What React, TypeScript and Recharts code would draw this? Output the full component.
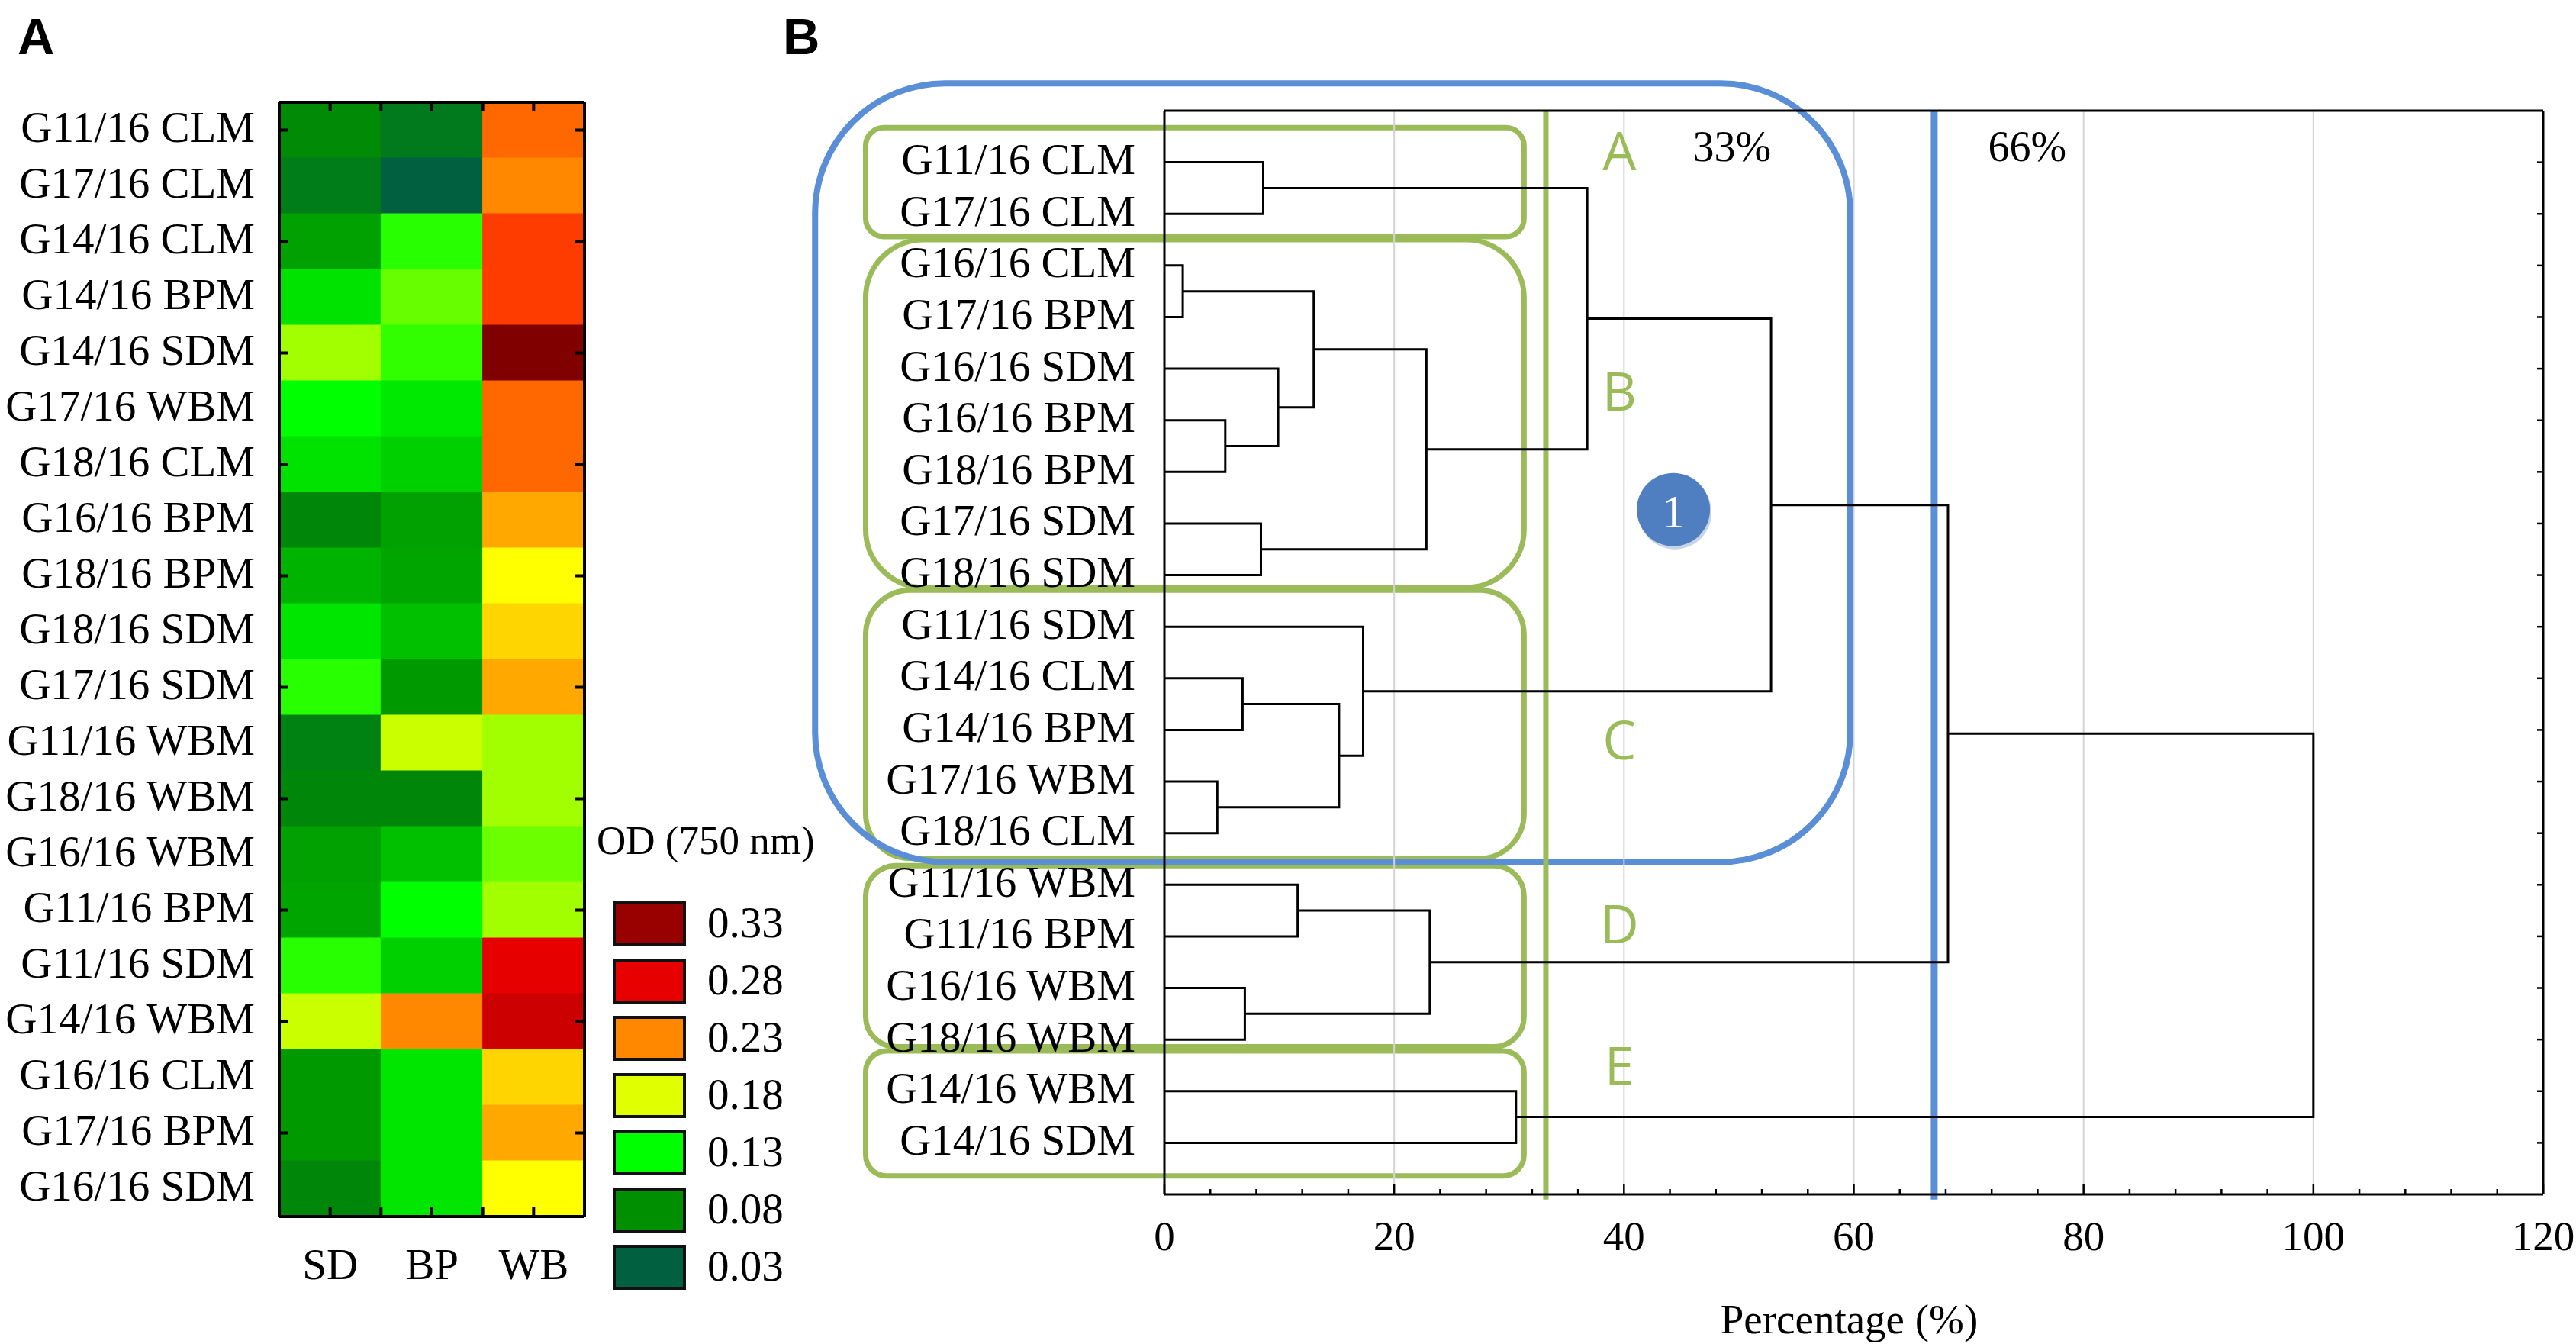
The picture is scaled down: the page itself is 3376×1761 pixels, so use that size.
import {
  BarChart,
  Bar,
  Cell,
  XAxis,
  YAxis,
  ComposedChart,
  Scatter,
  ReferenceLine,
  ReferenceArea,
  ReferenceDot,
  Label,
} from "recharts";

const SERIF = '"Liberation Serif", "Times New Roman", serif';
const SANS = '"Liberation Sans", Arial, sans-serif';
const LETTER_FONT = '"Open Sans", "Liberation Sans", sans-serif';
const GREEN = "#9bbb59";
const BLUE = "#5a8ed6";

// ---------- panel A: heatmap ----------
const rowLabels = [
  "G11/16 CLM", "G17/16 CLM", "G14/16 CLM", "G14/16 BPM", "G14/16 SDM",
  "G17/16 WBM", "G18/16 CLM", "G16/16 BPM", "G18/16 BPM", "G18/16 SDM",
  "G17/16 SDM", "G11/16 WBM", "G18/16 WBM", "G16/16 WBM", "G11/16 BPM",
  "G11/16 SDM", "G14/16 WBM", "G16/16 CLM", "G17/16 BPM", "G16/16 SDM",
];
const columnLabels = ["SD", "BP", "WB"];
const sdValues = [
  0.075, 0.061, 0.088, 0.117, 0.166, 0.13, 0.117, 0.072, 0.096, 0.119,
  0.139, 0.066, 0.072, 0.088, 0.09, 0.139, 0.175, 0.085, 0.085, 0.072,
];
const bpValues = [
  0.058, 0.03, 0.139, 0.153, 0.141, 0.12, 0.109, 0.088, 0.09, 0.102,
  0.085, 0.175, 0.072, 0.102, 0.13, 0.109, 0.23, 0.119, 0.119, 0.119,
];
const wbValues = [
  0.245, 0.23, 0.265, 0.265, 0.35, 0.245, 0.245, 0.219, 0.19, 0.204,
  0.219, 0.166, 0.166, 0.154, 0.166, 0.28, 0.297, 0.204, 0.219, 0.19,
];
const legendValues = [0.33, 0.28, 0.23, 0.18, 0.13, 0.08, 0.03];
const heatTicks = [0.5, 1, 1.5, 2, 2.5];

// OD colour ramp
const odStops: [number, string][] = [
  [0.03, "#006040"],
  [0.08, "#008f00"],
  [0.13, "#00ff00"],
  [0.18, "#e0ff00"],
  [0.19, "#ffff00"],
  [0.23, "#ff8800"],
  [0.265, "#ff3c00"],
  [0.28, "#e60000"],
  [0.33, "#990000"],
  [0.35, "#800000"],
];

function hexToRgb(h: string) {
  return [1, 3, 5].map((i) => parseInt(h.slice(i, i + 2), 16));
}

function odColor(v: number) {
  if (v <= odStops[0][0]) return odStops[0][1];
  for (let i = 1; i < odStops.length; i++) {
    const [v1, c1] = odStops[i];
    if (v <= v1) {
      const [v0, c0] = odStops[i - 1];
      const t = (v - v0) / (v1 - v0);
      const a = hexToRgb(c0);
      const b = hexToRgb(c1);
      const mix = a.map((x, k) => Math.round(x + (b[k] - x) * t));
      return `rgb(${mix.join(",")})`;
    }
  }
  return odStops[odStops.length - 1][1];
}

const heatRows = rowLabels.map((label, i) => ({
  label,
  sd: 1,
  bp: 1,
  wb: 1,
  sdOd: sdValues[i],
  bpOd: bpValues[i],
  wbOd: wbValues[i],
}));

// ---------- panel B: dendrogram ----------
const leaves = [
  "G11/16 CLM", "G17/16 CLM", "G16/16 CLM", "G17/16 BPM", "G16/16 SDM",
  "G16/16 BPM", "G18/16 BPM", "G17/16 SDM", "G18/16 SDM", "G11/16 SDM",
  "G14/16 CLM", "G14/16 BPM", "G17/16 WBM", "G18/16 CLM", "G11/16 WBM",
  "G11/16 BPM", "G16/16 WBM", "G18/16 WBM", "G14/16 WBM", "G14/16 SDM",
];
// [node, child, child, linkage height in %]
const merges: [string, string, string, number][] = [
  ["a", "G11/16 CLM", "G17/16 CLM", 8.6],
  ["b1", "G16/16 CLM", "G17/16 BPM", 1.6],
  ["b2", "G16/16 BPM", "G18/16 BPM", 5.3],
  ["b3", "G16/16 SDM", "b2", 9.9],
  ["b4", "b1", "b3", 13.0],
  ["b5", "G17/16 SDM", "G18/16 SDM", 8.4],
  ["b", "b4", "b5", 22.8],
  ["ab", "a", "b", 36.8],
  ["c1", "G14/16 CLM", "G14/16 BPM", 6.8],
  ["c2", "G17/16 WBM", "G18/16 CLM", 4.6],
  ["c3", "c1", "c2", 15.2],
  ["c", "G11/16 SDM", "c3", 17.3],
  ["abc", "ab", "c", 52.8],
  ["d1", "G11/16 WBM", "G11/16 BPM", 11.6],
  ["d2", "G16/16 WBM", "G18/16 WBM", 7.0],
  ["d", "d1", "d2", 23.1],
  ["abcd", "abc", "d", 68.2],
  ["e", "G14/16 WBM", "G14/16 SDM", 30.6],
  ["root", "abcd", "e", 100],
];
const axisTicks = [
  0, 4, 8, 12, 16, 20, 24, 28, 32, 36, 40, 44, 48, 52, 56, 60, 64, 68, 72,
  76, 80, 84, 88, 92, 96, 100, 104, 108, 112, 116, 120,
];
const gridValues = [20, 40, 60, 80, 100];
const leafTicks = leaves.map((_, i) => i + 1);

// cluster annotations (x in %, y in leaf rows)
const clusterBoxes = [
  { name: "A", y1: 0.33, y2: 2.44, ly: 0.76 },
  { name: "B", y1: 2.5, y2: 9.24, ly: 5.42 },
  { name: "C", y1: 9.29, y2: 14.49, ly: 12.17 },
  { name: "D", y1: 14.63, y2: 18.14, ly: 15.74 },
  { name: "E", y1: 18.22, y2: 20.64, ly: 18.48 },
];
const clusterBoxX = [-26, 31.3];
const groupBox = { x1: -30.4, x2: 59.7, y1: -0.53, y2: 14.56 };
const cutGreen = 33.2;
const cutBlue = 67;

type Pt = { x: number; y: number };
const nodePos = new Map<string, Pt>();
leaves.forEach((name, i) => nodePos.set(name, { x: 0, y: i + 1 }));
const links: Pt[][] = merges.map(([id, a, b, h]) => {
  const pa = nodePos.get(a)!;
  const pb = nodePos.get(b)!;
  nodePos.set(id, { x: h, y: (pa.y + pb.y) / 2 });
  return [pa, { x: h, y: pa.y }, { x: h, y: pb.y }, pb];
});

// ---------- ticks ----------
const HeatRowTick = (p: any) => (
  <g>
    {p.index % 2 === 0 && (
      <line x1={p.x} x2={p.x + 12} y1={p.y} y2={p.y} stroke="#000" strokeWidth={4} />
    )}
    <text
      x={p.x - 32}
      y={p.y - 4}
      textAnchor="end"
      dominantBaseline="central"
      fontFamily={SERIF}
      fontSize={57}
      fill="#000"
    >
      {p.payload.value}
    </text>
  </g>
);

const HeatRightTick = (p: any) =>
  p.index % 2 === 0 ? (
    <line x1={p.x} x2={p.x - 12} y1={p.y} y2={p.y} stroke="#000" strokeWidth={4} />
  ) : (
    <g />
  );

const HeatTopTick = (p: any) => (
  <line x1={p.x} x2={p.x} y1={p.y} y2={p.y + 12} stroke="#000" strokeWidth={4} />
);

const HeatBottomTick = (p: any) => {
  const v = p.payload.value;
  const isCenter = v % 1 === 0.5;
  return (
    <g>
      <line x1={p.x} x2={p.x} y1={p.y} y2={p.y - 12} stroke="#000" strokeWidth={4} />
      {isCenter && (
        <text
          x={p.x}
          y={p.y + 62}
          textAnchor="middle"
          dominantBaseline="central"
          fontFamily={SERIF}
          fontSize={57}
          fill="#000"
        >
          {columnLabels[Math.floor(v)]}
        </text>
      )}
    </g>
  );
};

const DendroBottomTick = (p: any) => {
  const v = p.payload.value;
  const major = v % 20 === 0;
  return (
    <g>
      <line x1={p.x} x2={p.x} y1={p.y} y2={p.y - (major ? 14 : 7)} stroke="#000" strokeWidth={2.5} />
      {major && (
        <text
          x={p.x}
          y={p.y + 54}
          textAnchor="middle"
          dominantBaseline="central"
          fontFamily={SERIF}
          fontSize={55}
          fill="#000"
        >
          {v}
        </text>
      )}
    </g>
  );
};

const DendroTopTick = (p: any) => {
  const major = p.payload.value % 20 === 0;
  return (
    <line x1={p.x} x2={p.x} y1={p.y} y2={p.y + (major ? 14 : 7)} stroke="#000" strokeWidth={2.5} />
  );
};

const LeafTick = (p: any) => (
  <text
    x={p.x - 38}
    y={p.y - 4}
    textAnchor="end"
    dominantBaseline="central"
    fontFamily={SERIF}
    fontSize={57}
    fill="#000"
  >
    {leaves[p.payload.value - 1]}
  </text>
);

const DendroRightTick = (p: any) => (
  <line x1={p.x} x2={p.x - 8} y1={p.y} y2={p.y} stroke="#000" strokeWidth={2.5} />
);

const roundedBox = (color: string, width: number) => (p: any) => {
  const r = Math.min(Math.abs(p.width), Math.abs(p.height)) * 0.167;
  return (
    <rect
      x={p.x}
      y={p.y}
      width={p.width}
      height={p.height}
      rx={r}
      ry={r}
      fill="none"
      stroke={color}
      strokeWidth={width}
    />
  );
};

const letterShape = (letter: string) => (p: any) => (
  <text
    x={p.cx}
    y={p.cy}
    textAnchor="middle"
    dominantBaseline="central"
    fontFamily={LETTER_FONT}
    fontSize={70}
    fill={GREEN}
  >
    {letter}
  </text>
);

const percentShape = (txt: string) => (p: any) => (
  <text
    x={p.cx}
    y={p.cy}
    textAnchor="middle"
    dominantBaseline="central"
    fontFamily={SERIF}
    fontSize={56}
    fill="#000"
  >
    {txt}
  </text>
);

const badgeShape = (p: any) => (
  <g>
    <circle cx={p.cx + 2} cy={p.cy + 4} r={48} fill="#c9d4e6" />
    <circle cx={p.cx} cy={p.cy} r={48} fill="#4f7fc0" />
    <text
      x={p.cx}
      y={p.cy + 2}
      textAnchor="middle"
      dominantBaseline="central"
      fontFamily={SERIF}
      fontSize={62}
      fill="#fff"
    >
      1
    </text>
  </g>
);

function Heatmap() {
  return (
    <BarChart
      width={800}
      height={1761}
      data={heatRows}
      layout="vertical"
      barCategoryGap={0}
      margin={{ top: 133, right: 33, bottom: 166, left: 365 }}
    >
      <XAxis
        xAxisId="top"
        orientation="top"
        type="number"
        domain={[0, 3]}
        allowDataOverflow
        ticks={heatTicks}
        interval={0}
        height={1}
        tickSize={0}
        tickMargin={0}
        tickLine={false}
        tick={HeatTopTick}
        axisLine={{ stroke: "#000", strokeWidth: 4 }}
      />
      <XAxis
        xAxisId="bottom"
        orientation="bottom"
        type="number"
        domain={[0, 3]}
        allowDataOverflow
        ticks={heatTicks}
        interval={0}
        height={1}
        tickSize={0}
        tickMargin={0}
        tickLine={false}
        tick={HeatBottomTick}
        axisLine={{ stroke: "#000", strokeWidth: 4 }}
      />
      <YAxis
        yAxisId="left"
        type="category"
        dataKey="label"
        width={1}
        interval={0}
        tickSize={0}
        tickMargin={0}
        tickLine={false}
        tick={HeatRowTick}
        axisLine={{ stroke: "#000", strokeWidth: 4 }}
      />
      <YAxis
        yAxisId="right"
        orientation="right"
        type="category"
        dataKey="label"
        width={1}
        interval={0}
        tickSize={0}
        tickMargin={0}
        tickLine={false}
        tick={HeatRightTick}
        axisLine={{ stroke: "#000", strokeWidth: 4 }}
      />
      {(["sd", "bp", "wb"] as const).map((key) => (
        <Bar
          key={key}
          dataKey={key}
          stackId="hm"
          xAxisId="bottom"
          yAxisId="left"
          isAnimationActive={false}
        >
          {heatRows.map((r, i) => {
            const c = odColor(r[`${key}Od` as "sdOd"]);
            return <Cell key={i} fill={c} stroke={c} strokeWidth={1} />;
          })}
        </Bar>
      ))}
    </BarChart>
  );
}

function Dendrogram() {
  return (
    <ComposedChart
      width={2376}
      height={1761}
      margin={{ top: 144, right: 42, bottom: 195, left: 525 }}
    >
      <XAxis
        xAxisId="b"
        type="number"
        dataKey="x"
        domain={[0, 120]}
        ticks={axisTicks}
        interval={0}
        height={1}
        tickSize={0}
        tickMargin={0}
        tickLine={false}
        tick={DendroBottomTick}
        axisLine={{ stroke: "#000", strokeWidth: 3 }}
      >
        <Label
          content={(props: any) => {
            const vb = props.viewBox;
            return (
              <text
                x={vb.x + vb.width / 2 - 6}
                y={vb.y + 163}
                textAnchor="middle"
                dominantBaseline="central"
                fontFamily={SERIF}
                fontSize={55}
                fill="#000"
              >
                Percentage (%)
              </text>
            );
          }}
        />
      </XAxis>
      <XAxis
        xAxisId="t"
        orientation="top"
        type="number"
        domain={[0, 120]}
        allowDataOverflow
        ticks={axisTicks}
        interval={0}
        height={1}
        tickSize={0}
        tickMargin={0}
        tickLine={false}
        tick={DendroTopTick}
        axisLine={{ stroke: "#000", strokeWidth: 3 }}
      />
      <YAxis
        yAxisId="l"
        type="number"
        dataKey="y"
        domain={[0, 21]}
        reversed
        ticks={leafTicks}
        interval={0}
        width={1}
        tickSize={0}
        tickMargin={0}
        tickLine={false}
        tick={LeafTick}
        axisLine={{ stroke: "#000", strokeWidth: 3 }}
      />
      <YAxis
        yAxisId="r"
        orientation="right"
        type="number"
        domain={[0, 21]}
        allowDataOverflow
        reversed
        ticks={leafTicks}
        interval={0}
        width={1}
        tickSize={0}
        tickMargin={0}
        tickLine={false}
        tick={DendroRightTick}
        axisLine={{ stroke: "#000", strokeWidth: 3 }}
      />
      {gridValues.map((v) => (
        <ReferenceLine
          key={v}
          xAxisId="b"
          yAxisId="l"
          x={v}
          stroke="#d4d4d4"
          strokeWidth={2}
        />
      ))}
      {links.map((pts, i) => (
        <Scatter
          key={i}
          xAxisId="b"
          yAxisId="l"
          data={pts}
          line={{ stroke: "#000", strokeWidth: 3 }}
          shape={() => <g />}
          legendType="none"
          isAnimationActive={false}
        />
      ))}
      <ReferenceLine
        xAxisId="b"
        yAxisId="l"
        segment={[
          { x: cutGreen, y: 0 },
          { x: cutGreen, y: 21.1 },
        ]}
        stroke={GREEN}
        strokeWidth={7}
        ifOverflow="visible"
      />
      {clusterBoxes.map((b) => (
        <ReferenceArea
          key={b.name}
          xAxisId="b"
          yAxisId="l"
          x1={clusterBoxX[0]}
          x2={clusterBoxX[1]}
          y1={b.y1}
          y2={b.y2}
          ifOverflow="visible"
          shape={roundedBox(GREEN, 7)}
        />
      ))}
      <ReferenceArea
        xAxisId="b"
        yAxisId="l"
        x1={groupBox.x1}
        x2={groupBox.x2}
        y1={groupBox.y1}
        y2={groupBox.y2}
        ifOverflow="visible"
        shape={roundedBox(BLUE, 8)}
      />
      <ReferenceLine
        xAxisId="b"
        yAxisId="l"
        segment={[
          { x: cutBlue, y: 0 },
          { x: cutBlue, y: 21.1 },
        ]}
        stroke={BLUE}
        strokeWidth={9}
        ifOverflow="visible"
      />
      {clusterBoxes.map((b) => (
        <ReferenceDot
          key={`l${b.name}`}
          xAxisId="b"
          yAxisId="l"
          x={39.6}
          y={b.ly}
          r={0}
          ifOverflow="visible"
          shape={letterShape(b.name)}
        />
      ))}
      <ReferenceDot xAxisId="b" yAxisId="l" x={49.4} y={0.69} r={0} shape={percentShape("33%")} />
      <ReferenceDot xAxisId="b" yAxisId="l" x={75.1} y={0.69} r={0} shape={percentShape("66%")} />
      <ReferenceDot xAxisId="b" yAxisId="l" x={44.3} y={7.73} r={48} shape={badgeShape} />
    </ComposedChart>
  );
}

export default function App() {
  return (
    <div
      style={{
        position: "relative",
        width: 3376,
        height: 1761,
        background: "#fff",
        overflow: "hidden",
      }}
    >
      <style>{`body{margin:0}`}</style>
      <svg
        width={3376}
        height={1761}
        style={{ position: "absolute", left: 0, top: 0 }}
      >
        <text x={23} y={71} fontFamily={SANS} fontWeight="bold" fontSize={67} fill="#000">
          A
        </text>
        <text x={1026} y={71} fontFamily={SANS} fontWeight="bold" fontSize={67} fill="#000">
          B
        </text>
        <text
          x={782}
          y={1101}
          dominantBaseline="central"
          fontFamily={SERIF}
          fontSize={53}
          fill="#000"
        >
          OD (750 nm)
        </text>
        {legendValues.map((v, i) => (
          <g key={v}>
            <rect
              x={805}
              y={1183 + i * 75}
              width={92}
              height={55}
              fill={odColor(v)}
              stroke="#111"
              strokeWidth={4}
            />
            <text
              x={927}
              y={1208 + i * 75}
              dominantBaseline="central"
              fontFamily={SERIF}
              fontSize={57}
              fill="#000"
            >
              {v.toFixed(2)}
            </text>
          </g>
        ))}
      </svg>
      <div style={{ position: "absolute", left: 0, top: 0 }}>
        <Heatmap />
      </div>
      <div style={{ position: "absolute", left: 1000, top: 0 }}>
        <Dendrogram />
      </div>
    </div>
  );
}
